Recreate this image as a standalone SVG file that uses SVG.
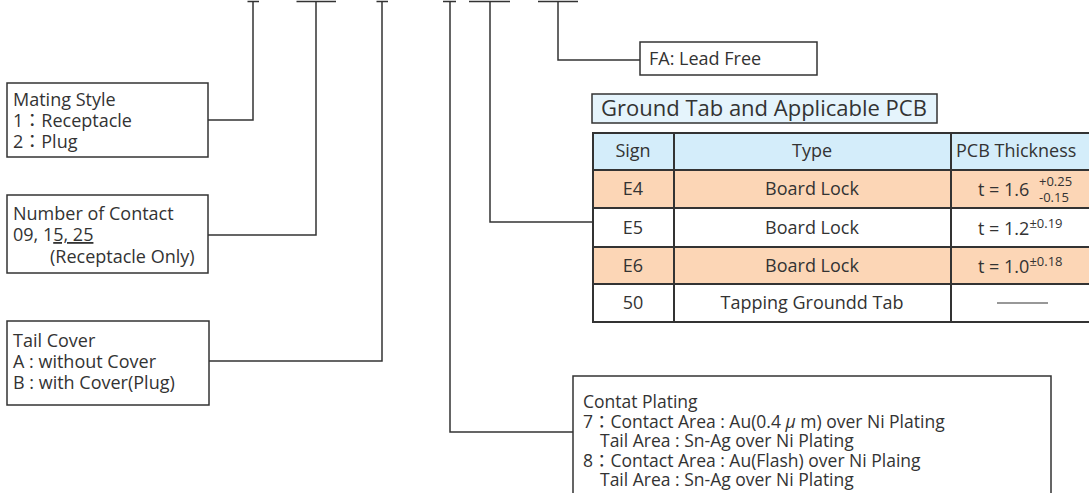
<svg xmlns="http://www.w3.org/2000/svg" width="1089" height="493" viewBox="0 0 1089 493">
<style>
.ln{fill:none;stroke:#333;stroke-width:1.5}
.bx{fill:#fff;stroke:#333;stroke-width:1.5}
.t{font-family:"Open Sans","Noto Sans CJK JP",sans-serif;font-size:18px;fill:#333}
.l{font-size:18px}
.p{font-size:17.5px}
.c{text-anchor:middle}
.tb{stroke:#333;stroke-width:2;fill:none}
.s{font-size:13px}
</style>
<rect width="1089" height="493" fill="#fff"/>
<g id="connectors" class="ln">
<path d="M247.5 1.5H259M296.5 1.5H336M376.5 1.5H388M443 1.5H456M469 1.5H510M538 1.5H578"/>
<polyline points="253,1.5 253,120 208,120"/>
<polyline points="316,1.5 316,235 208,235"/>
<polyline points="382,1.5 382,361 209,361"/>
<polyline points="450,1.5 450,432 573,432"/>
<polyline points="490,1.5 490,222 592,222"/>
<polyline points="558,1.5 558,60 640,60"/>
</g>
<g id="mating">
<rect class="bx" x="7" y="83" width="201" height="74"/>
<text class="t l" x="13" y="106">Mating Style</text>
<text class="t l" x="13" y="127">1：Receptacle</text>
<text class="t l" x="13" y="148">2：Plug</text>
</g>
<g id="number">
<rect class="bx" x="7" y="195" width="201" height="78"/>
<text class="t l" x="13" y="220">Number of Contact</text>
<text class="t l" x="13" y="241">09, 1<tspan text-decoration="underline">5, 25</tspan></text>
<text class="t l" x="50" y="263">(Receptacle Only)</text>
</g>
<g id="tailcover">
<rect class="bx" x="7" y="321" width="202" height="84"/>
<text class="t l" x="13" y="347">Tail Cover</text>
<text class="t l" x="13" y="368">A : without Cover</text>
<text class="t l" x="13" y="389">B : with Cover(Plug)</text>
</g>
<g id="plating">
<rect class="bx" x="573" y="376" width="478" height="130"/>
<text class="t p" x="583" y="408">Contat Plating</text>
<text class="t p" x="583" y="427.5">7：Contact Area : Au(0.4 <tspan font-style="italic">μ</tspan> m) over Ni Plating</text>
<text class="t p" x="600" y="447">Tail Area : Sn-Ag over Ni Plating</text>
<text class="t p" x="583" y="466.5">8：Contact Area : Au(Flash) over Ni Plaing</text>
<text class="t p" x="600" y="486">Tail Area : Sn-Ag over Ni Plating</text>
</g>
<g id="leadfree">
<rect class="bx" x="640" y="42" width="177" height="33"/>
<text class="t" x="649" y="65">FA: Lead Free</text>
</g>
<g id="title">
<rect x="592" y="94" width="345" height="29" fill="#e5f4fc" stroke="#333" stroke-width="1.5"/>
<text class="t" x="601" y="116" style="font-size:22px">Ground Tab and Applicable PCB</text>
</g>
<g id="table">
<rect x="592" y="133" width="510" height="37" fill="#d4edfa"/>
<rect x="592" y="170" width="510" height="38" fill="#fcd6b6"/>
<rect x="592" y="247" width="510" height="37" fill="#fcd6b6"/>
<path class="tb" d="M592 133H1100M592 170H1100M592 208H1100M592 247H1100M592 284H1100M592 322H1100M593 133V322M674 133V322M951 133V322"/>
<text class="t c" x="633" y="157">Sign</text>
<text class="t c" x="812" y="157">Type</text>
<text class="t" x="956" y="157">PCB Thickness</text>
<text class="t c" x="633" y="195">E4</text>
<text class="t c" x="812" y="195">Board Lock</text>
<text class="t" x="978" y="196">t = 1.6</text>
<text class="t s" x="1039" y="186">+0.25</text>
<text class="t s" x="1039" y="202">-0.15</text>
<text class="t c" x="633" y="234">E5</text>
<text class="t c" x="812" y="234">Board Lock</text>
<text class="t" x="978" y="235">t = 1.2<tspan class="s" dy="-7">±0.19</tspan></text>
<text class="t c" x="633" y="272">E6</text>
<text class="t c" x="812" y="272">Board Lock</text>
<text class="t" x="978" y="273">t = 1.0<tspan class="s" dy="-7">±0.18</tspan></text>
<text class="t c" x="633" y="309">50</text>
<text class="t c" x="812" y="309">Tapping Groundd Tab</text>
<line x1="997" y1="303" x2="1048" y2="303" stroke="#333" stroke-width="1.2"/>
</g>
</svg>
